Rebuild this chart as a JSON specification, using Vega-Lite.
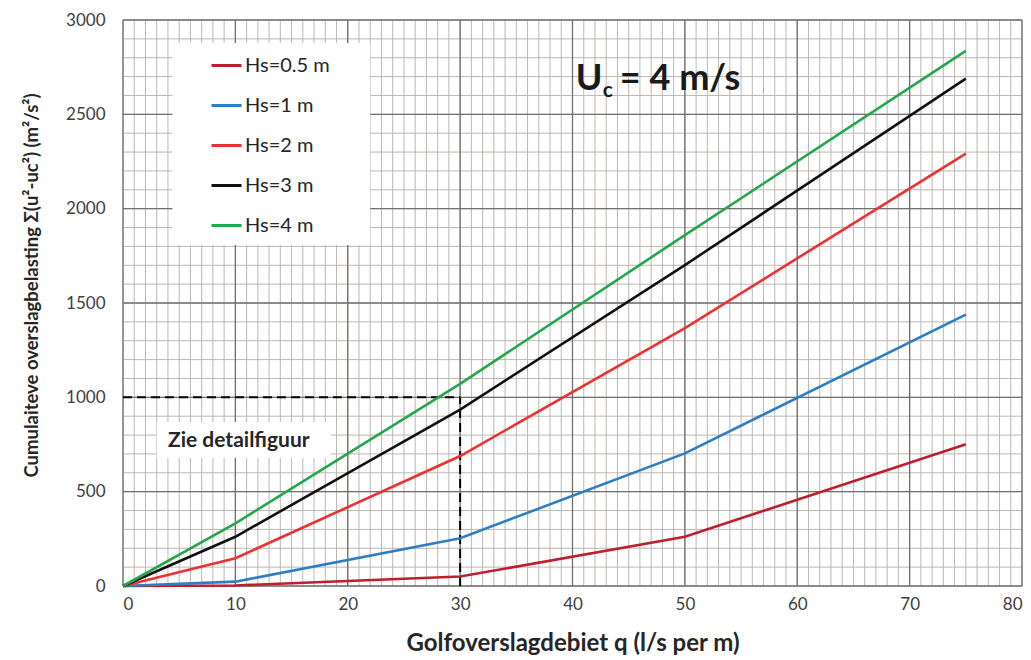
{
  "$schema": "https://vega.github.io/schema/vega-lite/v6.json",
  "width": 899,
  "height": 566,
  "autosize": {"type": "none"},
  "padding": {"left": 123, "top": 20, "right": 9, "bottom": 74},
  "background": "white",
  "config": {
    "view": {"stroke": null},
    "font": "Lato",
    "axis": {"grid": false, "ticks": false, "domain": false, "labelFont": "Lato", "labelFontSize": 17, "labelColor": "#404040", "titleFont": "Lato", "titleFontSize": 19, "titleFontWeight": "bold", "titleColor": "#262626"},
    "legend": {"labelFont": "Lato"}
  },
  "datasets": {
    "minorX": [{"q":0},{"q":1},{"q":2},{"q":3},{"q":4},{"q":5},{"q":6},{"q":7},{"q":8},{"q":9},{"q":10},{"q":11},{"q":12},{"q":13},{"q":14},{"q":15},{"q":16},{"q":17},{"q":18},{"q":19},{"q":20},{"q":21},{"q":22},{"q":23},{"q":24},{"q":25},{"q":26},{"q":27},{"q":28},{"q":29},{"q":30},{"q":31},{"q":32},{"q":33},{"q":34},{"q":35},{"q":36},{"q":37},{"q":38},{"q":39},{"q":40},{"q":41},{"q":42},{"q":43},{"q":44},{"q":45},{"q":46},{"q":47},{"q":48},{"q":49},{"q":50},{"q":51},{"q":52},{"q":53},{"q":54},{"q":55},{"q":56},{"q":57},{"q":58},{"q":59},{"q":60},{"q":61},{"q":62},{"q":63},{"q":64},{"q":65},{"q":66},{"q":67},{"q":68},{"q":69},{"q":70},{"q":71},{"q":72},{"q":73},{"q":74},{"q":75},{"q":76},{"q":77},{"q":78},{"q":79},{"q":80}],
    "minorY": [{"load":0},{"load":100},{"load":200},{"load":300},{"load":400},{"load":500},{"load":600},{"load":700},{"load":800},{"load":900},{"load":1000},{"load":1100},{"load":1200},{"load":1300},{"load":1400},{"load":1500},{"load":1600},{"load":1700},{"load":1800},{"load":1900},{"load":2000},{"load":2100},{"load":2200},{"load":2300},{"load":2400},{"load":2500},{"load":2600},{"load":2700},{"load":2800},{"load":2900},{"load":3000}],
    "majorX": [{"q":0},{"q":10},{"q":20},{"q":30},{"q":40},{"q":50},{"q":60},{"q":70},{"q":80}],
    "majorY": [{"load":0},{"load":500},{"load":1000},{"load":1500},{"load":2000},{"load":2500},{"load":3000}],
    "boxes": [
      {"q":4.4,"q2":22.0,"load":1807,"load2":2878},
      {"q":3.0,"q2":18.5,"load":678,"load2":869}
    ],
    "dashed": [
      {"q":0,"q2":30,"load":1000,"load2":1000},
      {"q":30,"q2":30,"load":0,"load2":1000}
    ],
    "curves": [
      {"Hs":"Hs=0.5 m","q":0,"load":0},{"Hs":"Hs=0.5 m","q":10,"load":3},{"Hs":"Hs=0.5 m","q":30,"load":50},{"Hs":"Hs=0.5 m","q":50,"load":261},{"Hs":"Hs=0.5 m","q":75,"load":751},
      {"Hs":"Hs=1 m","q":0,"load":0},{"Hs":"Hs=1 m","q":10,"load":23},{"Hs":"Hs=1 m","q":30,"load":253},{"Hs":"Hs=1 m","q":50,"load":703},{"Hs":"Hs=1 m","q":75,"load":1438},
      {"Hs":"Hs=2 m","q":0,"load":0},{"Hs":"Hs=2 m","q":10,"load":147},{"Hs":"Hs=2 m","q":30,"load":689},{"Hs":"Hs=2 m","q":50,"load":1367},{"Hs":"Hs=2 m","q":75,"load":2292},
      {"Hs":"Hs=3 m","q":0,"load":0},{"Hs":"Hs=3 m","q":10,"load":261},{"Hs":"Hs=3 m","q":30,"load":935},{"Hs":"Hs=3 m","q":50,"load":1701},{"Hs":"Hs=3 m","q":75,"load":2689},
      {"Hs":"Hs=4 m","q":0,"load":0},{"Hs":"Hs=4 m","q":10,"load":332},{"Hs":"Hs=4 m","q":30,"load":1071},{"Hs":"Hs=4 m","q":50,"load":1860},{"Hs":"Hs=4 m","q":75,"load":2836}
    ],
    "notes": [{"q":4.0,"load":737,"label":"Zie detailfiguur"}],
    "title": [{"q":40.3,"load":2629}]
  },
  "layer": [
    {
      "data": {"name": "minorX"},
      "mark": {"type": "rule", "color": "#bdb7b4", "strokeWidth": 1},
      "encoding": {"x": {"field": "q", "type": "quantitative", "scale": {"domain": [0, 80], "nice": false}, "axis": {"values": [0,10,20,30,40,50,60,70,80], "format": "d", "labelPadding": 10, "title": "Golfoverslagdebiet q (l/s per m)", "titleFontSize": 24, "titlePadding": 19}}}
    },
    {
      "data": {"name": "minorY"},
      "mark": {"type": "rule", "color": "#bdb7b4", "strokeWidth": 1},
      "encoding": {"y": {"field": "load", "type": "quantitative", "scale": {"domain": [0, 3000], "nice": false}, "axis": {"values": [0,500,1000,1500,2000,2500,3000], "format": "d", "labelPadding": 18, "title": "Cumulaiteve overslagbelasting Σ(u²-uc²) (m²/s²)", "titleFontSize": 18.5, "titlePadding": 24, "titleY": 265}}}
    },
    {
      "data": {"name": "majorX"},
      "mark": {"type": "rule", "color": "#707070", "strokeWidth": 1.3},
      "encoding": {"x": {"field": "q", "type": "quantitative"}}
    },
    {
      "data": {"name": "majorY"},
      "mark": {"type": "rule", "color": "#707070", "strokeWidth": 1.3},
      "encoding": {"y": {"field": "load", "type": "quantitative"}}
    },
    {
      "data": {"name": "boxes"},
      "mark": {"type": "rect", "color": "white", "opacity": 1},
      "encoding": {
        "x": {"field": "q", "type": "quantitative"},
        "x2": {"field": "q2"},
        "y": {"field": "load", "type": "quantitative"},
        "y2": {"field": "load2"}
      }
    },
    {
      "data": {"name": "dashed"},
      "mark": {"type": "rule", "color": "black", "strokeWidth": 2, "strokeDash": [9, 5]},
      "encoding": {
        "x": {"field": "q", "type": "quantitative"},
        "x2": {"field": "q2"},
        "y": {"field": "load", "type": "quantitative"},
        "y2": {"field": "load2"}
      }
    },
    {
      "data": {"name": "curves"},
      "mark": {"type": "line", "strokeWidth": 2.6},
      "encoding": {
        "x": {"field": "q", "type": "quantitative"},
        "y": {"field": "load", "type": "quantitative"},
        "color": {
          "field": "Hs", "type": "nominal",
          "scale": {"domain": ["Hs=0.5 m","Hs=1 m","Hs=2 m","Hs=3 m","Hs=4 m"], "range": ["#bf1e2e","#2e7ec2","#ee3030","#111111","#22a84a"]},
          "legend": {"title": null, "orient": "none", "legendX": 87, "legendY": 29, "symbolType": "stroke", "symbolSize": 900, "symbolStrokeWidth": 3, "labelFontSize": 20, "labelColor": "#262626", "rowPadding": 13, "labelOffset": 2, "padding": 0}
        }
      }
    },
    {
      "data": {"name": "notes"},
      "mark": {"type": "text", "align": "left", "baseline": "alphabetic", "fontSize": 21, "fontWeight": "bold", "color": "#262626"},
      "encoding": {
        "x": {"field": "q", "type": "quantitative"},
        "y": {"field": "load", "type": "quantitative"},
        "text": {"field": "label"}
      }
    },
    {
      "data": {"name": "title"},
      "mark": {"type": "text", "text": "U", "align": "left", "baseline": "alphabetic", "fontSize": 36, "fontWeight": "bold", "color": "#1a1a1a"},
      "encoding": {
        "x": {"field": "q", "type": "quantitative"},
        "y": {"field": "load", "type": "quantitative"}
      }
    },
    {
      "data": {"name": "title"},
      "mark": {"type": "text", "text": "c", "align": "left", "baseline": "alphabetic", "fontSize": 21, "fontWeight": "bold", "color": "#1a1a1a", "dx": 27, "dy": 7},
      "encoding": {
        "x": {"field": "q", "type": "quantitative"},
        "y": {"field": "load", "type": "quantitative"}
      }
    },
    {
      "data": {"name": "title"},
      "mark": {"type": "text", "text": "= 4 m/s", "align": "left", "baseline": "alphabetic", "fontSize": 36, "fontWeight": "bold", "color": "#1a1a1a", "dx": 44},
      "encoding": {
        "x": {"field": "q", "type": "quantitative"},
        "y": {"field": "load", "type": "quantitative"}
      }
    }
  ]
}
